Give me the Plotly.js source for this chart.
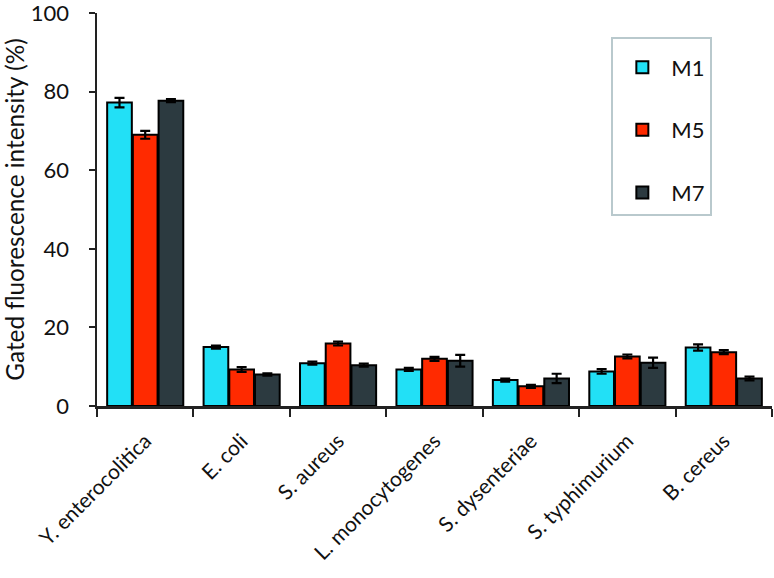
<!DOCTYPE html>
<html>
<head>
<meta charset="utf-8">
<script src="https://cdn.plot.ly/plotly-3.0.1.min.js"></script>
<style>html,body{margin:0;padding:0;background:#fff;}#chart{width:774px;height:578px;}</style>
</head>
<body>
<div id="chart"></div>
<script>
const categories = ["Y. enterocolitica", "E. coli", "S. aureus", "L. monocytogenes", "S. dysenteriae", "S. typhimurium", "B. cereus"];
const seriesNames = ["M1", "M5", "M7"];
const m1 = [77.2, 15.0, 10.9, 9.3, 6.6, 8.8, 14.9];
const m5 = [69.0, 9.3, 15.9, 12.0, 5.0, 12.6, 13.7];
const m7 = [77.7, 8.0, 10.4, 11.5, 7.0, 11.0, 7.0];
const m1Err = [1.2, 0.4, 0.4, 0.4, 0.4, 0.6, 0.8];
const m5Err = [1.0, 0.6, 0.5, 0.5, 0.4, 0.5, 0.5];
const m7Err = [0.4, 0.3, 0.4, 1.5, 1.2, 1.3, 0.5];
const yTicks = [0, 20, 40, 60, 80, 100];
const colors = ["#22e0f6", "#ff2a00", "#2c3a40"];

const vals = [m1, m5, m7];
const errs = [m1Err, m5Err, m7Err];
const traces = seriesNames.map((n, i) => ({
  type: "bar",
  name: n,
  x: categories,
  y: vals[i],
  legendgroup: n,
  marker: {color: colors[i], line: {color: "#000", width: 2}},
  error_y: {type: "data", array: errs[i], visible: true, color: "#000", thickness: 2.2, width: 5}
}));

const layout = {
  width: 774, height: 578,
  margin: {l: 97, r: 2, t: 13, b: 172},
  paper_bgcolor: "#fff", plot_bgcolor: "#fff",
  font: {family: "Lato, 'Open Sans', sans-serif", color: "#111"},
  barmode: "group",
  bargap: 0.2,
  bargroupgap: 0.04,
  showlegend: true,
  legend: {
    x: 0.762, y: 0.94, xanchor: "left", yanchor: "top",
    bordercolor: "#b9c9cd", borderwidth: 2, bgcolor: "#fff",
    font: {size: 22, family: "Lato, 'Open Sans', sans-serif", color: "#111"},
    title: {text: " ", font: {size: 6}},
    tracegroupgap: 31,
    itemwidth: 48,
    entrywidth: 79
  },
  xaxis: {
    type: "category",
    tickangle: -45,
    tickfont: {size: 21},
    showline: true, linecolor: "#222", linewidth: 2.5,
    ticks: "outside", tickson: "boundaries", ticklen: 8, tickwidth: 2, tickcolor: "#222",
    ticklabelstandoff: 12,
    showgrid: false, zeroline: false
  },
  yaxis: {
    range: [0, 100],
    tickvals: yTicks,
    tickfont: {size: 22},
    ticklabeloverflow: "allow",
    showline: true, linecolor: "#222", linewidth: 2.5,
    ticks: "outside", ticklen: 6, tickwidth: 2, tickcolor: "#222",
    ticklabelstandoff: 15,
    showgrid: false, zeroline: false,
    title: {text: "Gated fluorescence intensity (%)", font: {size: 24.3}, standoff: 6}
  }
};

Plotly.newPlot("chart", traces, layout, {displayModeBar: false, staticPlot: true});
</script>
</body>
</html>
